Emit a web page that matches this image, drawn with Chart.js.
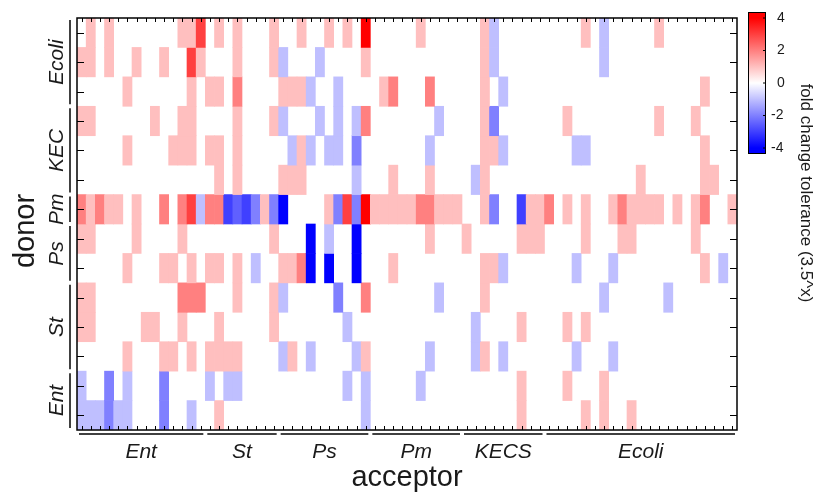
<!DOCTYPE html>
<html><head><meta charset="utf-8">
<script src="https://cdn.jsdelivr.net/npm/chart.js@4/dist/chart.umd.min.js"></script>
<style>html,body{margin:0;padding:0;background:#fff;}#wrap{position:relative;width:824px;height:496px;}canvas{position:absolute;left:0;top:0;}</style>
</head><body><div id="wrap"><canvas id="c" width="824" height="496"></canvas></div>
<script>
// ---- categories ----
const acceptorGroups = ['Ent','St','Ps','Pm','KECS','Ecoli'];
const acceptorCounts = [14, 8, 10, 10, 9, 21];
const donorGroups = ['Ecoli','KEC','Pm','Ps','St','Ent'];   // top to bottom
const donorCounts = [3, 3, 1, 2, 3, 2];
const colorbarTicks = [4, 2, 0, -2, -4];

// ---- values (fold change tolerance, log base 3.5), one array per donor row, 72 acceptors ----
const rowEcoli1 = [0,1,0,1,0,0,0,0,0,0, 0,1,1,3,0,1,0,1,0,0, 0,1,0,0,1,0,0,1,0,1, 0,4,0,0,0,0,0,1,0,0, 0,0,0,0,1,-1,0,0,0,0, 0,0,0,0,0,1,0,-1,0,0, 0,0,0,1,0,0,0,0,0,0, 0,0];
const rowEcoli2 = [1,1,0,1,0,0,1,0,0,1, 0,0,3,1,0,0,0,1,0,0, 0,1,-1,0,0,0,-1,0,0,0, 0,1,0,0,0,0,0,0,0,0, 0,0,0,0,1,-1,0,0,0,0, 0,0,0,0,0,0,0,-1,0,0, 0,0,0,0,0,0,0,0,0,0, 0,0];
const rowEcoli3 = [0,0,0,0,0,1,0,0,0,0, 0,0,1,0,1,1,0,2,0,0, 0,0,1,1,1,-1,0,0,-1,0, 0,0,0,1,2,0,0,0,2,0, 0,0,0,0,1,0,-1,0,0,0, 0,0,0,0,0,0,0,0,0,0, 0,0,0,0,0,0,0,0,1,0, 0,0];
const rowKEC1 = [1,1,0,0,0,0,0,0,1,0, 0,1,1,0,0,0,0,1,0,0, 0,1,-1,0,0,0,-1,0,-1,0, -1,2,0,0,0,0,0,0,0,-1, 0,0,0,0,1,-2,0,0,0,0, 0,0,0,1,0,0,0,0,0,0, 0,0,0,1,0,0,0,1,0,0, 0,0];
const rowKEC2 = [0,0,0,0,0,1,0,0,0,0, 1,1,1,0,1,1,0,1,0,0, 0,0,0,-1,1,-1,0,-1,-1,0, -2,0,0,0,0,0,0,0,-1,0, 0,0,0,0,1,1,-1,0,0,0, 0,0,0,0,-1,-1,0,0,0,0, 0,0,0,0,0,0,0,0,1,0, 0,0];
const rowKEC3 = [0,0,0,0,0,0,0,0,0,0, 0,0,0,0,0,1,0,1,0,0, 0,0,1,1,1,0,0,0,0,0, -1,0,0,0,1,0,0,0,1,0, 0,0,0,-1,1,0,0,0,0,0, 0,0,0,0,0,0,0,0,0,0, 0,1,0,0,0,0,0,0,1,1, 0,0];
const rowPm = [2,1,2,1,1,0,1,0,0,2, 0,2,3,-1,2,2,-3,-2.5,-3,-2, 1,-2,-4,0,0,0,0,1,-2,3, -2,4,1,1,1,1,1,2,2,1, 1,1,0,0,1,-2,0,0,-3,1, 1,2,0,1,0,1,0,0,1,2, 1,1,1,1,0,1,0,1,2,0, 0,1];
const rowPs1 = [1,1,0,0,0,0,1,0,0,0, 0,1,0,0,0,0,0,0,0,0, 0,1,0,0,0,-4,0,-1,0,0, -4,0,0,0,0,0,0,0,1,0, 0,0,1,0,0,0,0,0,1,1, 1,0,0,0,0,1,0,0,0,1, 1,0,0,0,0,0,0,1,0,0, 0,0];
const rowPs2 = [0,0,0,0,0,1,0,0,0,1, 1,0,1,0,1,1,0,1,0,-1, 0,0,1,1,2,-4,0,-4,0,0, -4,0,0,0,1,0,0,0,0,0, 0,0,0,0,1,1,-1,0,0,0, 0,0,0,0,-1,0,0,0,-1,0, 0,0,0,0,0,0,0,0,1,0, -1,0];
const rowSt1 = [1,1,0,0,0,0,0,0,0,0, 0,2,2,2,0,0,0,1,0,0, 0,1,-1,0,0,0,0,0,-2,0, 0,2,0,0,0,0,0,0,0,-1, 0,0,0,0,1,0,0,0,0,0, 0,0,0,0,0,0,0,-1,0,0, 0,0,0,0,-1,0,0,0,0,0, 0,0];
const rowSt2 = [1,1,0,0,0,0,0,1,1,0, 0,1,0,0,0,1,0,0,0,0, 0,1,0,0,0,0,0,0,0,-1, 0,0,0,0,0,0,0,0,0,0, 0,0,0,-1,0,0,0,0,1,0, 0,0,0,1,0,1,0,0,0,0, 0,0,0,0,0,0,0,0,0,0, 0,0];
const rowSt3 = [0,0,0,0,0,1,0,0,0,1, 1,0,1,0,1,1,1,1,0,0, 0,0,-1,1,0,-1,0,0,0,0, -1,1,0,0,0,0,0,0,-1,0, 0,0,0,-1,1,0,-1,0,0,0, 0,0,0,0,-1,0,0,0,-1,0, 0,0,0,0,0,0,0,0,0,0, 0,0];
const rowEnt1 = [-1,0,0,-2,0,-1,0,0,0,-2, 0,0,0,0,-1,0,-1,-1,0,0, 0,0,0,0,0,0,0,0,0,-1, 0,-1,0,0,0,0,0,-1,0,0, 0,0,0,0,0,0,0,0,1,0, 0,0,0,1,0,0,0,1,0,0, 0,0,0,0,0,0,0,0,0,0, 0,0];
const rowEnt2 = [-1,-1,-1,-2,-1,-1,0,0,0,-2, 0,0,-1,0,0,1,0,0,0,0, 0,0,0,0,0,0,0,0,0,0, 0,-1,0,0,0,0,0,0,0,0, 0,0,0,0,0,0,0,0,1,0, 0,0,0,0,0,1,0,1,0,0, 1,0,0,0,0,0,0,0,0,0, 0,0];

const rows = [rowEcoli1,rowEcoli2,rowEcoli3,rowKEC1,rowKEC2,rowKEC3,rowPm,rowPs1,rowPs2,rowSt1,rowSt2,rowSt3,rowEnt1,rowEnt2];
const rowNames = ['Ecoli1','Ecoli2','Ecoli3','KEC1','KEC2','KEC3','Pm','Ps1','Ps2','St1','St2','St3','Ent1','Ent2'];
const acceptorLabels = [];
acceptorGroups.forEach((g,i)=>{for(let k=1;k<=acceptorCounts[i];k++) acceptorLabels.push(g+k);});

function colorFor(v){
  const t = Math.max(-1, Math.min(1, v/4));
  if (t >= 0){ const o = Math.round(255*(1-t)); return `rgb(255,${o},${o})`; }
  const o = Math.round(255*(1+t)); return `rgb(${o},${o},255)`;
}

const NR = rows.length;
const datasets = rows.map((vals, r) => ({
  label: rowNames[r],
  data: vals.map(v => v === 0 ? null : [r, r+1]),
  backgroundColor: vals.map(colorFor),
  borderWidth: 0,
  grouped: false,
  barPercentage: 1,
  categoryPercentage: 1
}));

const FONT = '"Liberation Sans", Arial, sans-serif';

const decor = {
  id: 'decor',
  afterDraw(chart){
    const {ctx, chartArea:a, scales:{x, y}} = chart;
    const line = (x1,y1,x2,y2)=>{ctx.beginPath();ctx.moveTo(x1,y1);ctx.lineTo(x2,y2);ctx.stroke();};
    ctx.save();
    ctx.strokeStyle = '#000';
    // ticks
    ctx.lineWidth = 1;
    for (let r=0;r<NR;r++){
      const py = Math.round(y.getPixelForValue(r+0.5))+0.5;
      line(a.left, py, a.left+7, py);
      line(a.right-7, py, a.right, py);
    }
    for (let c=0;c<acceptorLabels.length;c++){
      const px = Math.round(x.getPixelForValue(c))+0.5;
      line(px, a.top, px, a.top+4);
      line(px, a.bottom-4, px, a.bottom);
    }
    // frame
    ctx.lineWidth = 1.5;
    ctx.strokeRect(a.left, a.top, a.right-a.left, a.bottom-a.top);

    // bottom group brackets + labels
    ctx.fillStyle = '#1a1a1a';
    ctx.textAlign = 'center'; ctx.textBaseline = 'middle';
    ctx.font = 'italic 21px ' + FONT;
    const cw = x.getPixelForValue(1)-x.getPixelForValue(0);
    let c0 = 0;
    acceptorGroups.forEach((g,i)=>{
      const c1 = c0 + acceptorCounts[i];
      const xl = x.getPixelForValue(c0) - cw/2;
      const xr = x.getPixelForValue(c1-1) + cw/2;
      ctx.lineWidth = 1.5;
      line(xl+2, a.bottom+4, xr-2, a.bottom+4);
      ctx.fillText(g, (xl+xr)/2, a.bottom+22);
      c0 = c1;
    });
    // left group brackets + labels
    let r0 = 0;
    donorGroups.forEach((g,i)=>{
      const r1 = r0 + donorCounts[i];
      const yt = y.getPixelForValue(r0), yb = y.getPixelForValue(r1);
      line(a.left-7, yt+2, a.left-7, yb-2);
      ctx.save();
      ctx.translate(a.left-20, (yt+yb)/2);
      ctx.rotate(-Math.PI/2);
      ctx.fillText(g, 0, 0);
      ctx.restore();
      r0 = r1;
    });
    // axis titles
    ctx.font = '29px ' + FONT;
    ctx.fillText('acceptor', (a.left+a.right)/2, 478);
    ctx.save();
    ctx.translate(26, 231);
    ctx.rotate(-Math.PI/2);
    ctx.fillText('donor', 0, 0);
    ctx.restore();

    // colorbar
    const cbL = 748, cbR = 766, cbT = 18, cbB = 148;
    const grad = ctx.createLinearGradient(0, cbT, 0, cbB);
    grad.addColorStop(0, 'rgb(255,0,0)');
    grad.addColorStop(0.5, 'rgb(255,255,255)');
    grad.addColorStop(1, 'rgb(0,0,255)');
    ctx.fillStyle = grad;
    ctx.fillRect(cbL, cbT-6, cbR-cbL, cbB-cbT+12);
    ctx.lineWidth = 1;
    ctx.strokeRect(cbL+0.5, cbT-5.5, cbR-cbL-1, cbB-cbT+11);
    ctx.font = '14px ' + FONT;
    ctx.fillStyle = '#1a1a1a';
    ctx.textAlign = 'left';
    colorbarTicks.forEach(t=>{
      const py = cbB - (t+4)/8*(cbB-cbT);
      line(cbR-3, py, cbR, py);
      ctx.fillText(String(t), t<0 ? 771 : 777, py);
    });
    ctx.save();
    ctx.translate(806, 193);
    ctx.rotate(Math.PI/2);
    ctx.textAlign = 'center';
    ctx.font = '17px ' + FONT;
    ctx.fillText('fold change tolerance (3.5^x)', 0, 0);
    ctx.restore();
    ctx.restore();
  }
};

new Chart(document.getElementById('c'), {
  type: 'bar',
  data: { labels: acceptorLabels, datasets },
  options: {
    responsive: false,
    animation: false,
    layout: { padding: { left: 77, right: 87, top: 18, bottom: 66 } },
    plugins: { legend: { display: false }, tooltip: { enabled: false } },
    scales: {
      x: { display: false, offset: true, grid: { display: false } },
      y: { display: false, min: 0, max: NR, reverse: true }
    }
  },
  plugins: [decor]
});
</script></body></html>
